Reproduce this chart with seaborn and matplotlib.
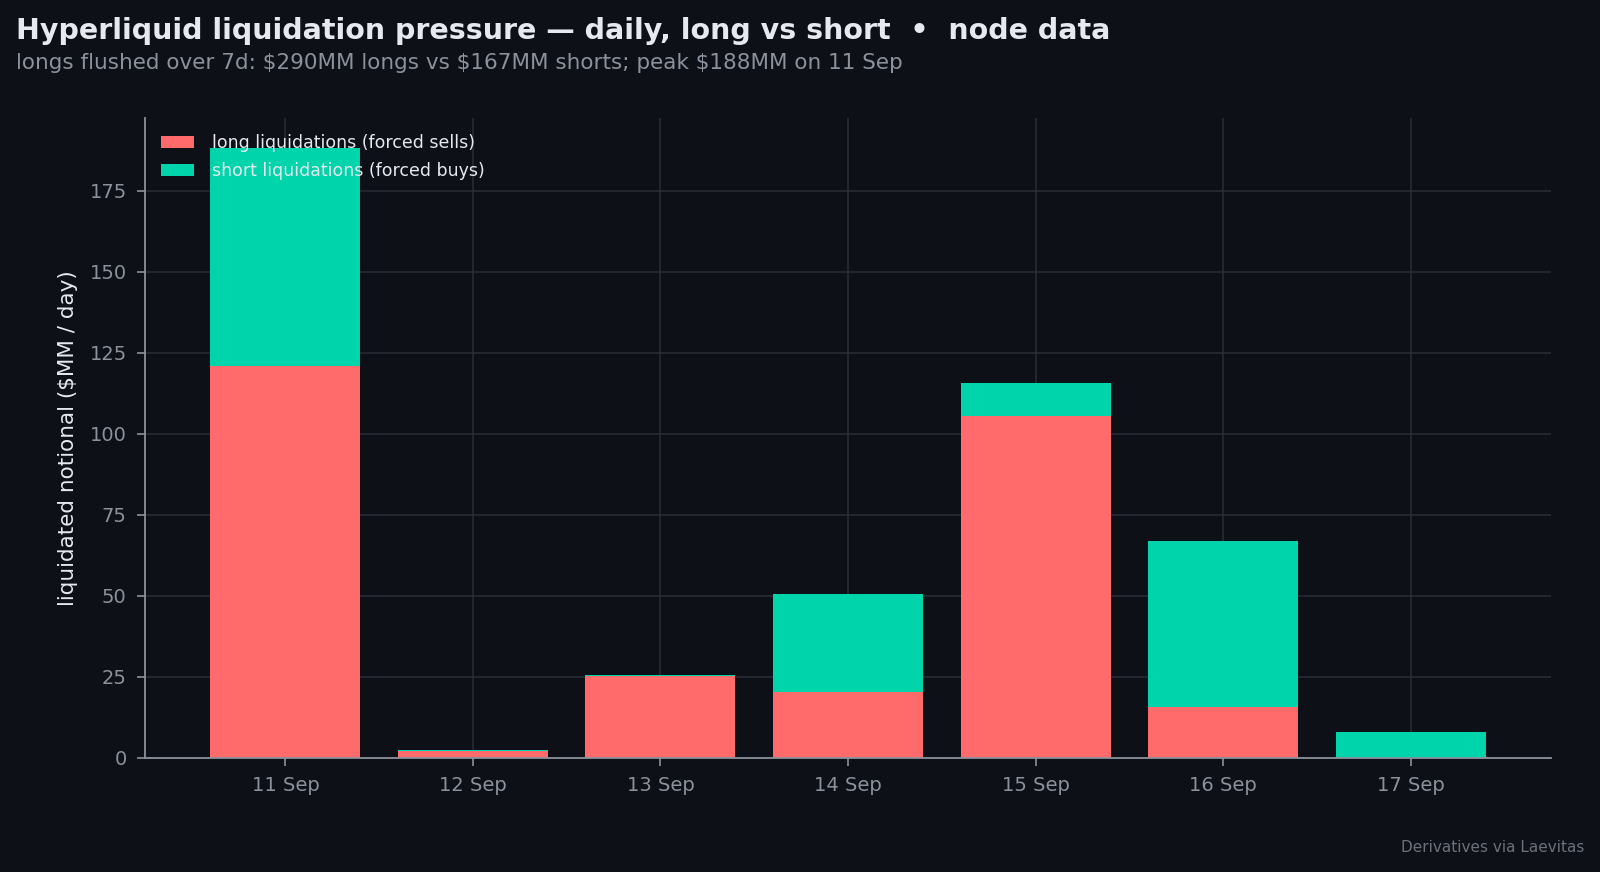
import matplotlib
matplotlib.use("Agg")
import matplotlib.pyplot as plt
import seaborn as sns
import pandas as pd

days = ["11 Sep", "12 Sep", "13 Sep", "14 Sep", "15 Sep", "16 Sep", "17 Sep"]
long_liq = [121.0, 2.0, 25.1, 20.4, 105.6, 15.7, 0.0]
short_liq = [67.3, 0.3, 0.3, 30.0, 9.9, 51.2, 8.0]

BG = "#0d1017"
TEXT = "#e6e9ef"
MUTED = "#8b929c"
LONG_C = "#ff6b6b"
SHORT_C = "#00d4aa"

df = pd.DataFrame({"day": days, "long": long_liq, "short": short_liq})

sns.set_style("dark")
plt.rcParams["font.family"] = ["DejaVu Sans"]

fig = plt.figure(figsize=(16, 8.72), dpi=100, facecolor=BG)
ax = fig.add_axes([0.0905, 0.131, 0.879, 0.734])
ax.set_facecolor(BG)

sns.barplot(data=df, x="day", y="long", color=LONG_C, width=0.8,
            saturation=1, ax=ax, linewidth=0,
            label="long liquidations (forced sells)")
sns.barplot(data=df, x="day", y="short", color=SHORT_C, width=0.8,
            saturation=1, ax=ax, bottom=df["long"], linewidth=0,
            label="short liquidations (forced buys)")

ax.set_xlim(-0.75, 6.75)
ax.set_ylim(0, 197.5)
ax.set_yticks([0, 25, 50, 75, 100, 125, 150, 175])

ax.grid(True, color="#2a2e37", linewidth=1.1)
ax.set_axisbelow(True)

for s in ["top", "right"]:
    ax.spines[s].set_visible(False)
for s in ["left", "bottom"]:
    ax.spines[s].set_color(MUTED)
    ax.spines[s].set_linewidth(1.3)

ax.tick_params(colors=MUTED, labelsize=14, length=6, width=1.2, pad=7,
               bottom=True, left=True)
ax.set_xlabel("")
ax.set_ylabel("liquidated notional ($MM / day)", color=TEXT, fontsize=15.5,
              labelpad=8)

ax.legend(loc="upper left", frameon=False, fontsize=12.5,
          labelcolor=TEXT, handlelength=1.9, handletextpad=1.0,
          borderaxespad=0.55, labelspacing=0.55)

fig.text(0.01, 0.981, "Hyperliquid liquidation pressure \u2014 daily, long vs short  \u2022  node data",
         color=TEXT, fontsize=20.5, fontweight="bold", va="top", ha="left")
fig.text(0.01, 0.939, "longs flushed over 7d: $290MM longs vs $167MM shorts; peak $188MM on 11 Sep",
         color=MUTED, fontsize=15.5, va="top", ha="left")
fig.text(0.99, 0.02, "Derivatives via Laevitas", color="#6b727c",
         fontsize=11, ha="right", va="bottom")

fig.savefig("out.png", dpi=100, facecolor=BG)
